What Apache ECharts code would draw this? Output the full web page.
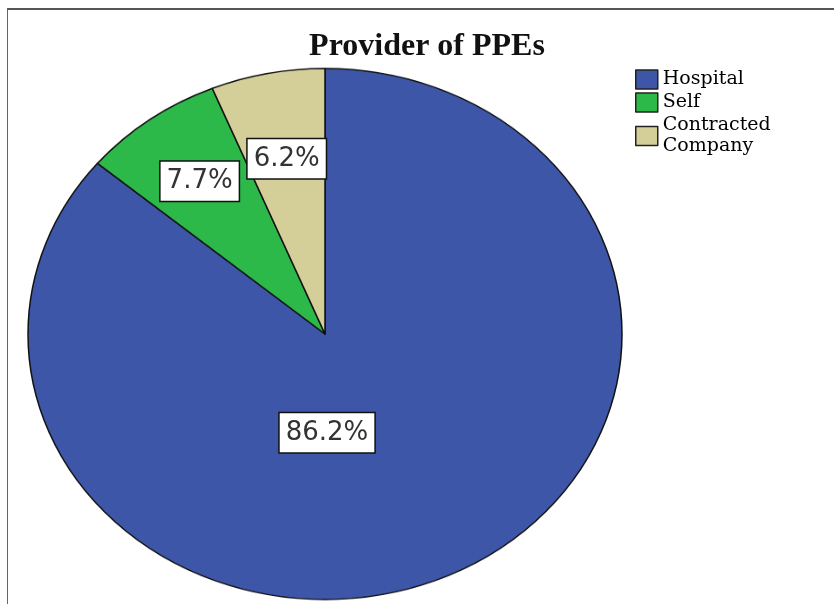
<!DOCTYPE html>
<html lang="en">
<head>
    <meta charset="UTF-8">
    <title>Provider of PPEs</title>
    <script src="https://cdn.jsdelivr.net/npm/echarts@6/dist/echarts.min.js"></script>
    <style>
        html, body { margin: 0; padding: 0; background: #fff; overflow: hidden; }
        #wrap { position: relative; width: 834px; height: 604px; overflow: hidden; }
        #frame {
            position: absolute; left: 7px; top: 8px; width: 840px; height: 610px;
            border-top: 2px solid #555; border-left: 1px solid #666;
        }
        /* pie drawn as a circle, squeezed vertically to the ellipse of the original */
        #pie_div {
            position: absolute; left: 0; top: -16.5px; width: 834px; height: 700px;
            transform: scaleY(0.894); transform-origin: 325px 350px;
        }
        #top_div { position: absolute; left: 0; top: 0; width: 834px; height: 604px; }
    </style>
</head>
<body>
<div id="wrap">
    <div id="frame"></div>
    <div id="pie_div"></div>
    <div id="top_div"></div>
</div>
<script>
    // 数据
    var categories = ['Hospital', 'Self', 'Contracted\nCompany'];
    var values = [86.2, 7.7, 6.2];
    var colors = ['#3d56a8', '#2db84a', '#d4ce99'];
    // label nudges so boxes sit where the original puts them
    var labelOffsets = [[-62, -38], [-36, -30], [-9, -26]];

    var pieChart = echarts.init(document.getElementById('pie_div'));
    var pieData = [];
    for (var i = 0; i < values.length; i++) {
        pieData.push({name: categories[i], value: values[i], itemStyle: {color: colors[i]}});
    }
    pieChart.setOption({
        animation: false,
        series: [{
            type: 'pie',
            center: [325, 350],
            radius: 297,
            startAngle: 90,
            clockwise: true,
            silent: true,
            label: {show: false},
            labelLine: {show: false},
            itemStyle: {borderColor: '#111', borderWidth: 1.5},
            data: pieData
        }]
    });

    // title, legend and percentage boxes, not squeezed
    var topChart = echarts.init(document.getElementById('top_div'));
    var labelData = [];
    var legendData = [];
    for (var j = 0; j < values.length; j++) {
        labelData.push({
            name: categories[j],
            value: values[j],
            itemStyle: {color: 'rgba(0,0,0,0)'},
            label: {offset: labelOffsets[j]}
        });
        legendData.push({
            name: categories[j],
            itemStyle: {color: colors[j], borderColor: '#222', borderWidth: 1.5, opacity: 1}
        });
    }
    topChart.setOption({
        animation: false,
        title: {
            text: 'Provider of PPEs',
            left: 422,
            textAlign: 'center',
            top: 26,
            textStyle: {
                fontFamily: 'Liberation Serif',
                fontWeight: 'bold',
                fontSize: 32,
                color: '#111'
            }
        },
        legend: {
            orient: 'vertical',
            left: 635,
            top: 69,
            padding: 0,
            icon: 'rect',
            itemWidth: 22,
            itemHeight: 19,
            itemGap: 2,
            align: 'left',
            selectedMode: false,
            textStyle: {
                fontFamily: 'DejaVu Serif',
                fontSize: 19,
                lineHeight: 21,
                color: '#000',
                padding: [0, 0, 0, 0]
            },
            data: legendData
        },
        series: [{
            type: 'pie',
            center: [325, 333.5],
            radius: 297,
            startAngle: 90,
            clockwise: true,
            silent: true,
            itemStyle: {borderWidth: 0},
            labelLine: {show: false},
            label: {
                show: true,
                position: 'inside',
                formatter: '{c}%',
                fontFamily: 'DejaVu Sans',
                fontSize: 26,
                lineHeight: 31,
                color: '#333',
                backgroundColor: '#fff',
                borderColor: '#111',
                borderWidth: 1.5,
                padding: [4, 6, 4, 6]
            },
            data: labelData
        }]
    });
</script>
</body>
</html>
